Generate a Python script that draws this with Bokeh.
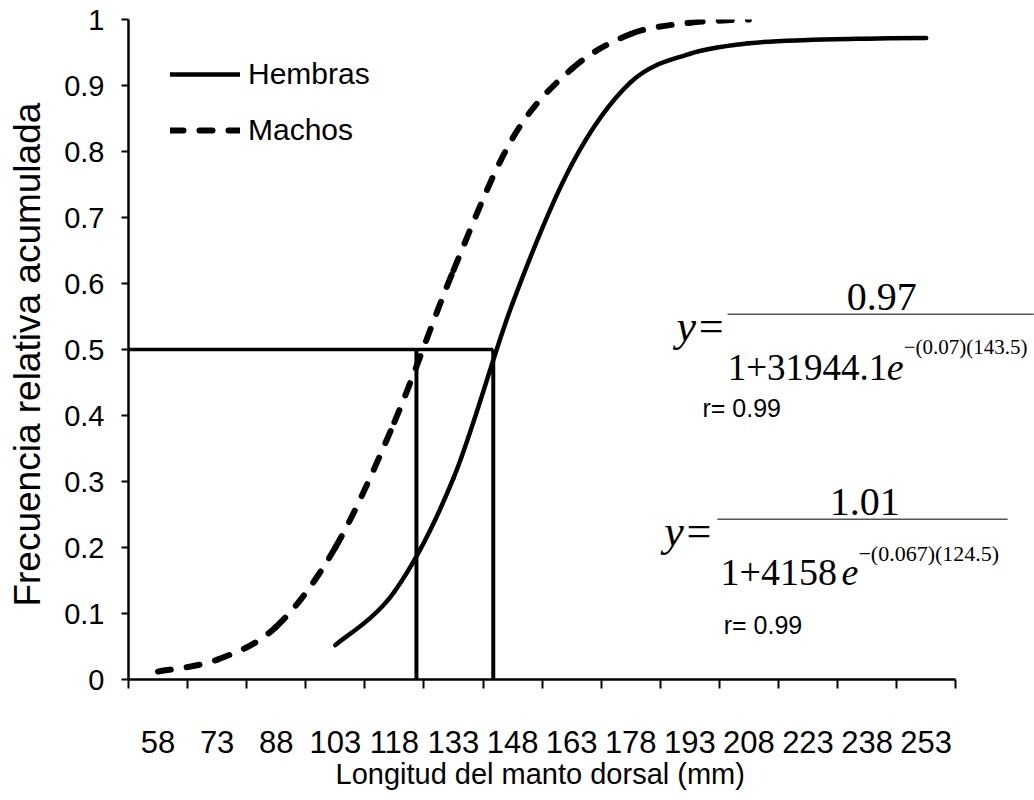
from bokeh.plotting import figure
from bokeh.models import (Range1d, FixedTicker, Label, Arrow, Title,
                          Legend, LegendItem)
from bokeh.embed import file_html
from bokeh.resources import INLINE

# ---------------- data ----------------
x_labels = [58, 73, 88, 103, 118, 133, 148, 163, 178, 193, 208, 223, 238, 253]
hembras_x = [103, 118, 133, 148, 163, 178, 193, 208, 223, 238, 253]
hembras_y = [0.052, 0.133, 0.305, 0.57, 0.78, 0.905, 0.948, 0.964, 0.969, 0.971, 0.972]
machos_x = [58, 73, 88, 103, 118, 133, 148, 163, 178, 193, 208]
machos_y = [0.012, 0.030, 0.080, 0.200, 0.390, 0.620, 0.820, 0.925, 0.978, 0.995, 1.0]
y_ticks = [0, 0.1, 0.2, 0.3, 0.4, 0.5, 0.6, 0.7, 0.8, 0.9, 1]
y_tick_labels = ["0", "0.1", "0.2", "0.3", "0.4", "0.5", "0.6", "0.7", "0.8", "0.9", "1"]
p50 = 0.5
l50_machos = 123.6
l50_hembras = 143.1

step = 15
x_start = x_labels[0] - step / 2
x_end = x_labels[-1] + step / 2
boundaries = [x_start + step * i for i in range(len(x_labels) + 1)]
x_view_end = 280.5   # room on the right for the equations


def smooth_segments(xs, ys):
    n = len(xs)
    d = dict(x0=[], y0=[], x1=[], y1=[], cx0=[], cy0=[], cx1=[], cy1=[])
    for i in range(n - 1):
        i0 = max(i - 1, 0)
        i3 = min(i + 2, n - 1)
        d["x0"].append(xs[i]); d["y0"].append(ys[i])
        d["x1"].append(xs[i + 1]); d["y1"].append(ys[i + 1])
        d["cx0"].append(xs[i] + (xs[i + 1] - xs[i0]) / 6)
        d["cy0"].append(ys[i] + (ys[i + 1] - ys[i0]) / 6)
        d["cx1"].append(xs[i + 1] - (xs[i3] - xs[i]) / 6)
        d["cy1"].append(ys[i + 1] - (ys[i3] - ys[i]) / 6)
    return d


SANS = "Liberation Sans"
SERIF = "Liberation Serif"

p = figure(width=1034, height=800, output_backend="svg", toolbar_location=None,
           x_range=Range1d(x_start, x_view_end), y_range=Range1d(0, 1),
           x_axis_location="below", y_axis_location="left",
           min_border_left=128, min_border_right=0, min_border_top=19,
           min_border_bottom=121)
p.outline_line_color = None
p.grid.visible = False
p.background_fill_color = "white"
p.border_fill_color = "white"

# y axis
ya = p.yaxis[0]
ya.ticker = FixedTicker(ticks=y_ticks)
ya.major_label_overrides = {t: l for t, l in zip(y_ticks, y_tick_labels)}
ya.major_tick_out = 7
ya.major_tick_in = 0
ya.minor_tick_out = 0
ya.minor_tick_in = 0
ya.axis_line_width = 2.5
ya.major_tick_line_width = 2
ya.major_label_text_font = SANS
ya.major_label_text_font_size = "29px"
ya.major_label_text_color = "black"
ya.major_label_standoff = 17
ya.axis_label = "Frecuencia  relativa acumulada"
ya.axis_label_text_font = SANS
ya.axis_label_text_font_size = "37px"
ya.axis_label_text_font_style = "normal"
ya.axis_label_text_color = "black"
ya.axis_label_standoff = 13

# x axis: labels at category centres, tick marks (minor) at category boundaries
xa = p.xaxis[0]
xa.bounds = (x_start, x_end)
xa.ticker = FixedTicker(ticks=x_labels, minor_ticks=boundaries)
xa.axis_line_width = 2.5
xa.major_tick_line_color = None
xa.major_tick_out = 0
xa.major_tick_in = 0
xa.minor_tick_out = 9
xa.minor_tick_in = 0
xa.minor_tick_line_width = 2
xa.minor_tick_line_color = "black"
xa.major_label_text_font = SANS
xa.major_label_text_font_size = "31px"
xa.major_label_text_color = "black"
xa.major_label_standoff = 42

# x axis title, centred under the axis line (not under the wider frame)
p.add_layout(Title(text="Longitud del manto dorsal (mm)", align="left", offset=207,
                   standoff=1, text_font=SANS, text_font_size="29px",
                   text_font_style="normal", text_color="black"), "below")

# reference lines at 50 %
p.segment(x0=[x_start], y0=[p50], x1=[l50_hembras], y1=[p50],
          line_color="black", line_width=3.5)
p.segment(x0=[l50_machos, l50_hembras], y0=[p50, p50], x1=[l50_machos, l50_hembras],
          y1=[-0.006, -0.006], line_color="black", line_width=4)

# curves
hd = smooth_segments(hembras_x, hembras_y)
md = smooth_segments(machos_x, machos_y)
rh = p.bezier(x0="x0", y0="y0", x1="x1", y1="y1", cx0="cx0", cy0="cy0",
              cx1="cx1", cy1="cy1", source=hd, line_color="black", line_width=4.5,
              line_cap="round")
rm = p.bezier(x0="x0", y0="y0", x1="x1", y1="y1", cx0="cx0", cy0="cy0",
              cx1="cx1", cy1="cy1", source=md, line_color="black", line_width=6,
              line_dash="13 16", line_cap="round")

legend = Legend(items=[LegendItem(label="Hembras", renderers=[rh]),
                       LegendItem(label="Machos", renderers=[rm])],
                location=(42, 532), orientation="vertical",
                glyph_width=70, glyph_height=32, label_height=32,
                label_standoff=8, spacing=22, padding=0, margin=0,
                border_line_color=None, background_fill_alpha=0,
                label_text_font=SANS, label_text_font_size="30px",
                label_text_color="black")
p.add_layout(legend, "center")


def lab(x, y, text, font=SERIF, size="38px", style="normal", align="left"):
    p.add_layout(Label(x=x, y=y, text=text, text_font=font, text_font_size=size,
                       text_font_style=style, text_align=align,
                       text_baseline="alphabetic", text_color="black"))


# equation 1 (Hembras)
lab(241.7, 0.579, "0.97", size="40px", align="center")
p.add_layout(Arrow(x_start=202.6, y_start=0.5535, x_end=280.3, y_end=0.5535,
                   start=None, end=None, line_color="#555555", line_width=1.5))
lab(202.1, 0.535, "y=", size="44px", style="italic", align="right")
lab(202.6, 0.4732, "1+31944.1", size="37px")
lab(247.3, 0.4732, "e", size="38px", style="italic", align="right")
lab(247.3, 0.5035, "\u2212(0.07)(143.5)", size="21px")
lab(196.2, 0.4111, "r= 0.99", font=SANS, size="25px")

# equation 2 (Machos)
lab(237.4, 0.2686, "1.01", size="40px", align="center")
p.add_layout(Arrow(x_start=200.0, y_start=0.2429, x_end=273.7, y_end=0.2429,
                   start=None, end=None, line_color="#555555", line_width=1.5))
lab(199.0, 0.2247, "y=", size="44px", style="italic", align="right")
lab(200.8, 0.1626, "1+4158", size="38px")
lab(235.8, 0.1626, "e", size="38px", style="italic", align="right")
lab(235.8, 0.1914, "\u2212(0.067)(124.5)", size="22px")
lab(201.6, 0.0823, "r= 0.99", font=SANS, size="25px")

open("out.html", "w").write(file_html(p, INLINE))
